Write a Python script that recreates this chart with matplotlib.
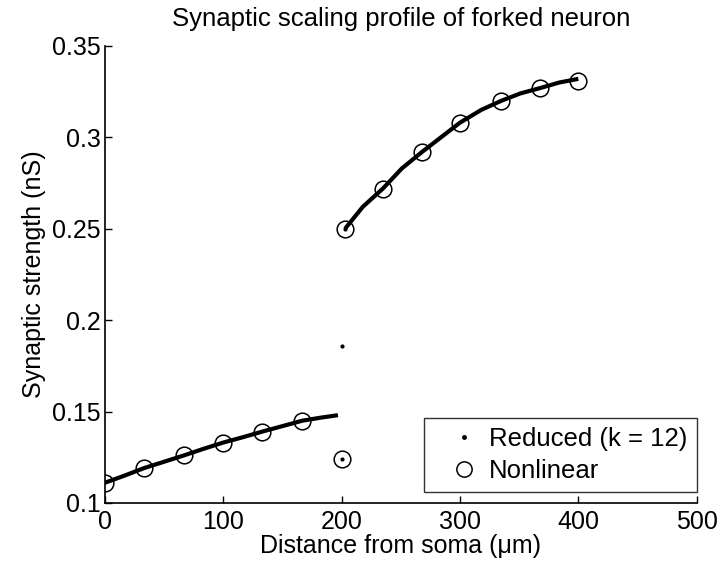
import matplotlib
matplotlib.use("Agg")
import matplotlib.pyplot as plt

plt.rcParams['font.family'] = ['Liberation Sans', 'DejaVu Sans']

# reduced model (k = 12), proximal and distal branches
reduced_x_prox = [0, 17, 33, 50, 67, 83, 100, 117, 133, 150, 167, 183, 197]
reduced_y_prox = [0.111, 0.115, 0.119, 0.1225, 0.126, 0.1295, 0.133, 0.136, 0.139, 0.142, 0.145, 0.1467, 0.148]
reduced_x_dist = [203, 218, 235, 251, 268, 284, 300, 318, 335, 351, 368, 384, 400]
reduced_y_dist = [0.250, 0.262, 0.272, 0.283, 0.292, 0.300, 0.308, 0.315, 0.320, 0.324, 0.327, 0.330, 0.332]
# isolated reduced-model points at the branch point
reduced_x_pts = [200, 200, 203]
reduced_y_pts = [0.186, 0.124, 0.250]

# nonlinear model
nonlin_x = [0, 33, 67, 100, 133, 167, 200, 203, 235, 268, 300, 335, 368, 400]
nonlin_y = [0.111, 0.119, 0.126, 0.133, 0.139, 0.145, 0.124, 0.250, 0.272, 0.292, 0.308, 0.320, 0.327, 0.331]

fig = plt.figure(figsize=(7.22, 5.67), dpi=100)
ax = fig.add_axes([0.145, 0.113, 0.82, 0.806])

ax.plot(reduced_x_prox, reduced_y_prox, '-', color='black', lw=3.0, solid_capstyle='butt')
ax.plot(reduced_x_dist, reduced_y_dist, '-', color='black', lw=3.0, solid_capstyle='butt')
ax.plot(reduced_x_pts, reduced_y_pts, '.', color='black', markersize=4, label='Reduced (k = 12)')
ax.plot(nonlin_x, nonlin_y, 'o', color='black', markerfacecolor='none', markersize=12,
        markeredgewidth=1.1, label='Nonlinear')

ax.set_xlim(0, 500)
ax.set_ylim(0.1, 0.35)
ax.set_xticks([0, 100, 200, 300, 400, 500])
ax.set_yticks([0.1, 0.15, 0.2, 0.25, 0.3, 0.35])
ax.set_yticklabels(['0.1', '0.15', '0.2', '0.25', '0.3', '0.35'])
ax.tick_params(direction='in', length=5, width=1, labelsize=18)
ax.tick_params(axis='x', pad=5)
ax.tick_params(axis='y', pad=3)
ax.spines['top'].set_visible(False)
ax.spines['right'].set_visible(False)
for s in ['left', 'bottom']:
    ax.spines[s].set_linewidth(1.2)

ax.set_xlabel('Distance from soma (\u03bcm)', fontsize=18, labelpad=0)
ax.set_ylabel('Synaptic strength (nS)', fontsize=18, labelpad=4)
ax.set_title('Synaptic scaling profile of forked neuron', fontsize=18.5, pad=14)

leg = ax.legend(loc='lower right', bbox_to_anchor=(1.0, 0.024), fontsize=18.5,
                frameon=True, fancybox=False, edgecolor='black', borderaxespad=0,
                borderpad=0.35, handlelength=2.4, handletextpad=-0.2, labelspacing=0.3)
leg.get_frame().set_linewidth(1.0)
leg.legend_handles[0].set_markersize(5)
leg.legend_handles[1].set_markersize(11)

fig.savefig('out.png', dpi=100)
